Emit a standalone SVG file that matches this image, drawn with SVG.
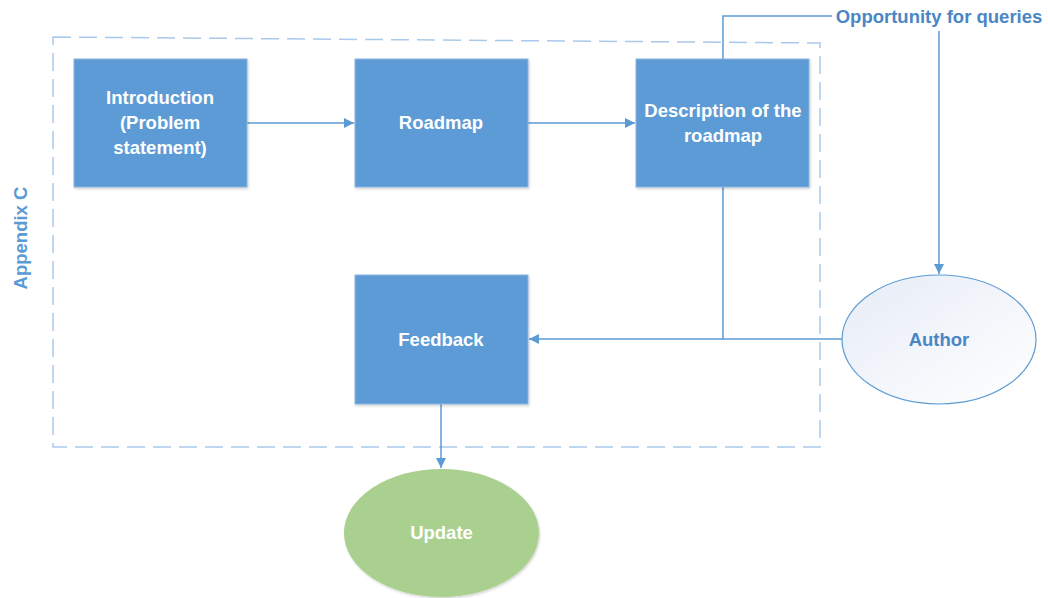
<svg xmlns="http://www.w3.org/2000/svg" width="1048" height="598" viewBox="0 0 1048 598">
  <style>
    .box { fill: #5B9BD5; stroke: #8DB4E0; stroke-width: 1; filter: url(#shadow); }
    .lbl { font-family: "Liberation Sans", Arial, sans-serif; font-weight: bold; font-size: 18.5px; text-anchor: middle; }
    .white { fill: #FFFFFF; }
    .blue { fill: #4A86C5; }
    .conn { fill: none; stroke: #5B9BD5; stroke-width: 1.5; }
  </style>
  <defs>
    <marker id="arrow" viewBox="0 0 10 10" refX="10" refY="5" markerWidth="10" markerHeight="10" markerUnits="userSpaceOnUse" orient="auto">
      <path d="M0,0 L10,5 L0,10 z" fill="#5B9BD5"/>
    </marker>
    <linearGradient id="authorFill" x1="0" y1="0" x2="1" y2="1">
      <stop offset="0" stop-color="#E6ECF6"/>
      <stop offset="1" stop-color="#FFFFFF"/>
    </linearGradient>
    <filter id="shadow" x="-10%" y="-10%" width="120%" height="120%">
      <feDropShadow dx="1" dy="1.5" stdDeviation="1.2" flood-color="#000000" flood-opacity="0.18"/>
    </filter>
  </defs>

  <rect width="1048" height="598" fill="#FFFFFF"/>

  <!-- Appendix boundary -->
  <g id="appendix">
    <path d="M53,37 L820,43 L820,447 L53,447 Z" fill="none" stroke="#A9C9EA" stroke-width="1.5" stroke-dasharray="18,8"/>
    <text class="lbl" x="0" y="0" fill="#5B9BD5" transform="translate(27,238) rotate(-90)">Appendix C</text>
  </g>

  <!-- Connectors -->
  <g id="connectors">
    <line class="conn" x1="247" y1="123" x2="354" y2="123" marker-end="url(#arrow)"/>
    <line class="conn" x1="528" y1="123" x2="635" y2="123" marker-end="url(#arrow)"/>
    <polyline class="conn" points="723,59 723,16 832,16"/>
    <line class="conn" x1="939" y1="31" x2="939" y2="274" marker-end="url(#arrow)"/>
    <polyline class="conn" points="723,187 723,339 529,339" marker-end="url(#arrow)"/>
    <line class="conn" x1="842" y1="339" x2="723" y2="339"/>
    <line class="conn" x1="441" y1="404" x2="441" y2="468" marker-end="url(#arrow)"/>
  </g>

  <g id="introduction">
    <rect class="box" x="74" y="59" width="173" height="128"/>
    <text class="lbl white" x="160" y="104">Introduction</text>
    <text class="lbl white" x="160" y="129">(Problem</text>
    <text class="lbl white" x="160" y="154">statement)</text>
  </g>

  <g id="roadmap">
    <rect class="box" x="355" y="59" width="173" height="128"/>
    <text class="lbl white" x="441" y="129">Roadmap</text>
  </g>

  <g id="description">
    <rect class="box" x="636" y="59" width="173" height="128"/>
    <text class="lbl white" x="723" y="117">Description of the</text>
    <text class="lbl white" x="723" y="142">roadmap</text>
  </g>

  <g id="feedback">
    <rect class="box" x="355" y="275" width="173" height="129"/>
    <text class="lbl white" x="441" y="346">Feedback</text>
  </g>

  <g id="opportunity">
    <text class="lbl blue" x="939" y="23">Opportunity for queries</text>
  </g>

  <g id="author">
    <ellipse cx="939" cy="339.5" rx="97" ry="64.5" fill="url(#authorFill)" stroke="#5B9BD5" stroke-width="1.2"/>
    <text class="lbl blue" x="939" y="346">Author</text>
  </g>

  <g id="update">
    <ellipse cx="441.5" cy="533" rx="97.5" ry="64" fill="#A9D08E" filter="url(#shadow)"/>
    <text class="lbl white" x="441.5" y="539">Update</text>
  </g>
</svg>
